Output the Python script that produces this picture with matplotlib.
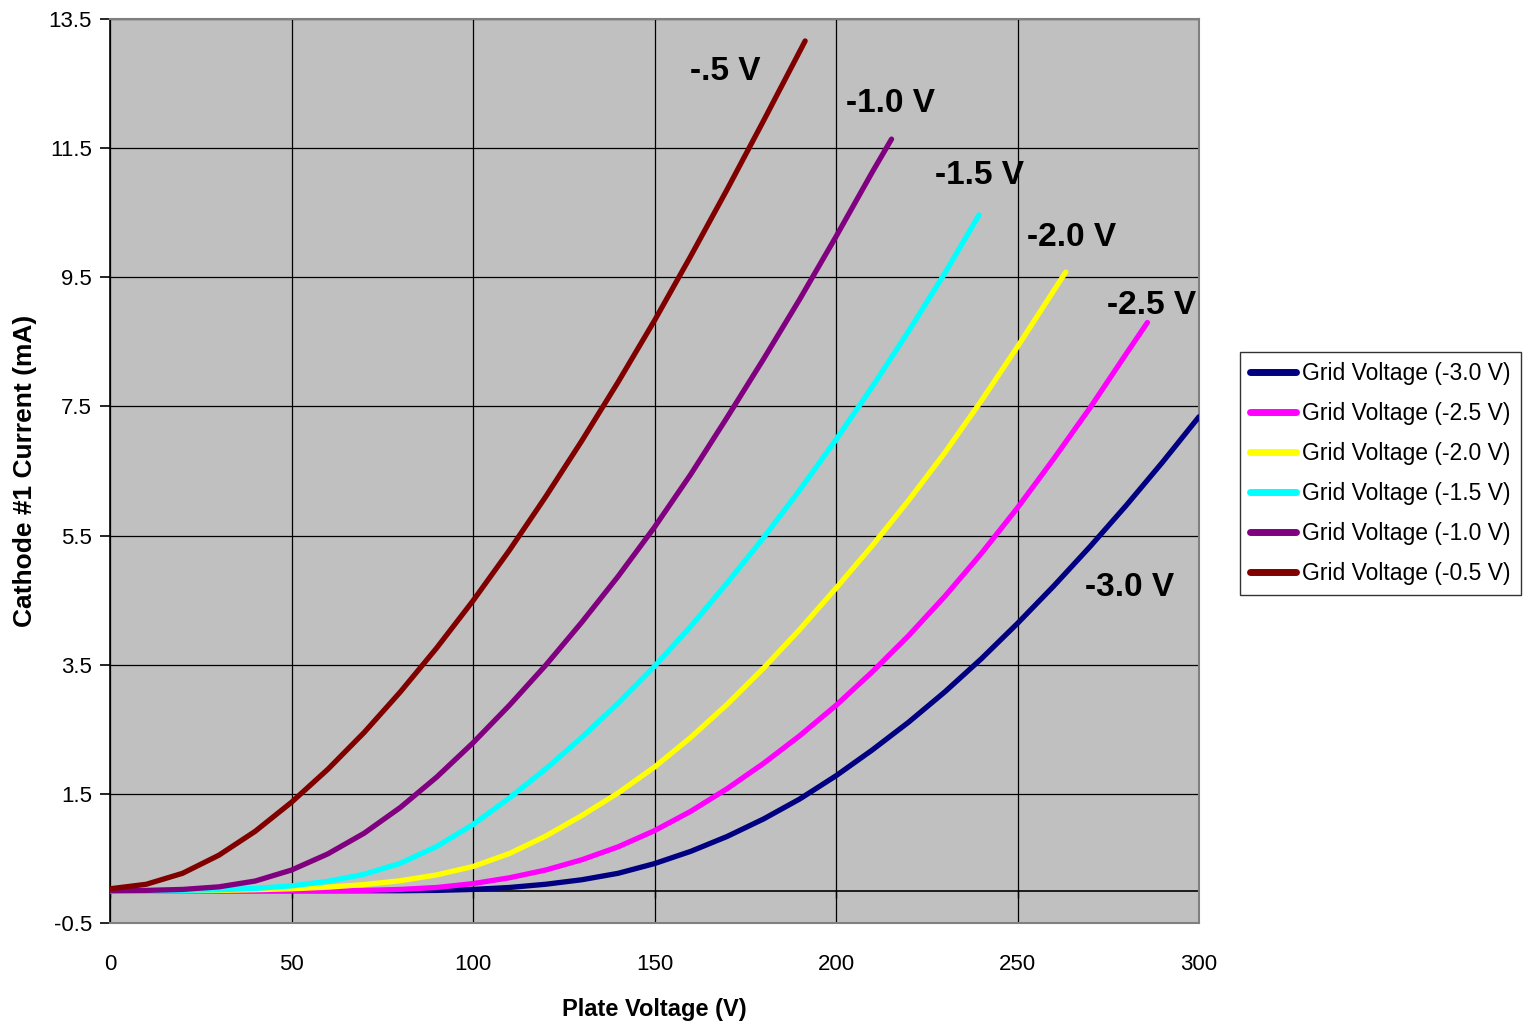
import matplotlib
matplotlib.use("Agg")
import matplotlib.pyplot as plt

plt.rcParams['font.family'] = ['Liberation Sans', 'DejaVu Sans']

# ---- data ----
x_m05 = [0, 10, 20, 30, 40, 50, 60, 70, 80, 90, 100, 110, 120, 130, 140, 150, 160, 170, 180, 191.5]
y_m05 = [0.03, 0.10, 0.27, 0.55, 0.92, 1.37, 1.88, 2.45, 3.08, 3.76, 4.49, 5.27, 6.10, 6.97, 7.88, 8.83, 9.83, 10.86, 11.92, 13.16]

x_m10 = [0, 10, 20, 30, 40, 50, 60, 70, 80, 90, 100, 110, 120, 130, 140, 150, 160, 170, 180, 190, 200, 210, 215.3]
y_m10 = [0.0, 0.005, 0.02, 0.06, 0.15, 0.32, 0.57, 0.89, 1.29, 1.76, 2.29, 2.87, 3.49, 4.16, 4.87, 5.63, 6.45, 7.33, 8.23, 9.16, 10.13, 11.13, 11.64]

x_m15 = [0, 10, 20, 30, 40, 50, 60, 70, 80, 90, 100, 110, 120, 130, 140, 150, 160, 170, 180, 190, 200, 210, 220, 230, 239.4]
y_m15 = [0.0, 0.0, 0.005, 0.015, 0.035, 0.075, 0.145, 0.255, 0.425, 0.685, 1.025, 1.435, 1.885, 2.375, 2.905, 3.475, 4.095, 4.765, 5.465, 6.205, 6.985, 7.805, 8.665, 9.565, 10.465]

x_m20 = [0, 10, 20, 30, 40, 50, 60, 70, 80, 90, 100, 110, 120, 130, 140, 150, 160, 170, 180, 190, 200, 210, 220, 230, 240, 250, 260, 263.3]
y_m20 = [0.0, 0.0, 0.0, 0.005, 0.015, 0.03, 0.055, 0.095, 0.155, 0.245, 0.375, 0.575, 0.845, 1.165, 1.515, 1.915, 2.375, 2.885, 3.445, 4.045, 4.685, 5.345, 6.045, 6.785, 7.585, 8.425, 9.295, 9.58]

x_m25 = [0, 10, 20, 30, 40, 50, 60, 70, 80, 90, 100, 110, 120, 130, 140, 150, 160, 170, 180, 190, 200, 210, 220, 230, 240, 250, 260, 270, 280, 285.8]
y_m25 = [0.0, 0.0, 0.0, 0.0, 0.0, 0.0, 0.0, 0.005, 0.02, 0.05, 0.11, 0.20, 0.32, 0.48, 0.68, 0.93, 1.23, 1.58, 1.97, 2.40, 2.87, 3.39, 3.95, 4.56, 5.22, 5.93, 6.69, 7.48, 8.32, 8.80]

x_m30 = [0, 10, 20, 30, 40, 50, 60, 70, 80, 90, 100, 110, 120, 130, 140, 150, 160, 170, 180, 190, 200, 210, 220, 230, 240, 250, 260, 270, 280, 290, 300]
y_m30 = [0.0, 0.0, 0.0, 0.0, 0.0, 0.0, 0.0, 0.0, 0.0, 0.005, 0.02, 0.05, 0.10, 0.17, 0.27, 0.42, 0.61, 0.84, 1.11, 1.42, 1.78, 2.18, 2.61, 3.08, 3.59, 4.14, 4.72, 5.33, 5.97, 6.64, 7.34]

series_labels = ["Grid Voltage (-3.0 V)", "Grid Voltage (-2.5 V)", "Grid Voltage (-2.0 V)",
                 "Grid Voltage (-1.5 V)", "Grid Voltage (-1.0 V)", "Grid Voltage (-0.5 V)"]
series_colors = ["#000080", "#FF00FF", "#FFFF00", "#00FFFF", "#800080", "#800000"]

curve_texts = ["-3.0 V", "-2.5 V", "-2.0 V", "-1.5 V", "-1.0 V", "-.5 V"]
curve_text_x = [281, 287, 265, 239.5, 215, 169.5]
curve_text_y = [4.70, 9.07, 10.12, 11.08, 12.19, 12.68]

x_ticks = [0, 50, 100, 150, 200, 250, 300]
y_ticks = [-0.5, 1.5, 3.5, 5.5, 7.5, 9.5, 11.5, 13.5]

# ---- figure ----
fig = plt.figure(figsize=(15.28, 10.26), dpi=100)
ax = fig.add_axes([110/1528, 103/1026, 1089/1528, 904/1026])
ax.set_facecolor("#C0C0C0")

xs = [x_m30, x_m25, x_m20, x_m15, x_m10, x_m05]
ys = [y_m30, y_m25, y_m20, y_m15, y_m10, y_m05]
for xv, yv, lab, col in zip(xs, ys, series_labels, series_colors):
    ax.plot(xv, yv, color=col, lw=3.8, label=lab, solid_capstyle='round',
            solid_joinstyle='round', zorder=3)

for t, tx, ty in zip(curve_texts, curve_text_x, curve_text_y):
    ax.text(tx, ty, t, fontsize=24, fontweight='bold', ha='center', va='center',
            color='black', zorder=4)

ax.set_xlim(0, 300)
ax.set_ylim(-0.5, 13.5)
ax.set_xticks(x_ticks)
ax.set_yticks(y_ticks)
ax.set_xticklabels([str(v) for v in x_ticks])
ax.set_yticklabels([f"{v:.1f}" for v in y_ticks])
ax.grid(True, color="black", lw=0.9, zorder=1)
ax.set_axisbelow(True)
ax.axhline(0, color="black", lw=1.2, zorder=2)
ax.vlines(x_ticks, -0.12, 0, color="black", lw=1.0, zorder=2)

ax.tick_params(axis='x', length=0, pad=22, labelsize=16)
ax.tick_params(axis='y', length=7, width=1.2, pad=6, labelsize=16, direction='out')
for s in ['top', 'right', 'bottom']:
    ax.spines[s].set_color("#808080")
    ax.spines[s].set_linewidth(1.5)
ax.spines['left'].set_color("black")
ax.spines['left'].set_linewidth(1.2)

ax.set_xlabel("Plate Voltage (V)", fontsize=17, fontweight='bold', labelpad=17)
ax.set_ylabel("Cathode #1 Current (mA)", fontsize=19, fontweight='bold', labelpad=8)

leg = fig.legend(loc='upper left', bbox_to_anchor=(1240/1528, 674/1026),
                 fontsize=16.5, frameon=True, fancybox=False, edgecolor='black',
                 handlelength=2.0, handletextpad=0.25, labelspacing=0.74,
                 borderpad=0.45, borderaxespad=0)
leg.get_frame().set_linewidth(1.0)
for h in leg.legend_handles:
    h.set_linewidth(5)

fig.savefig("out.png", dpi=100, facecolor="white")
